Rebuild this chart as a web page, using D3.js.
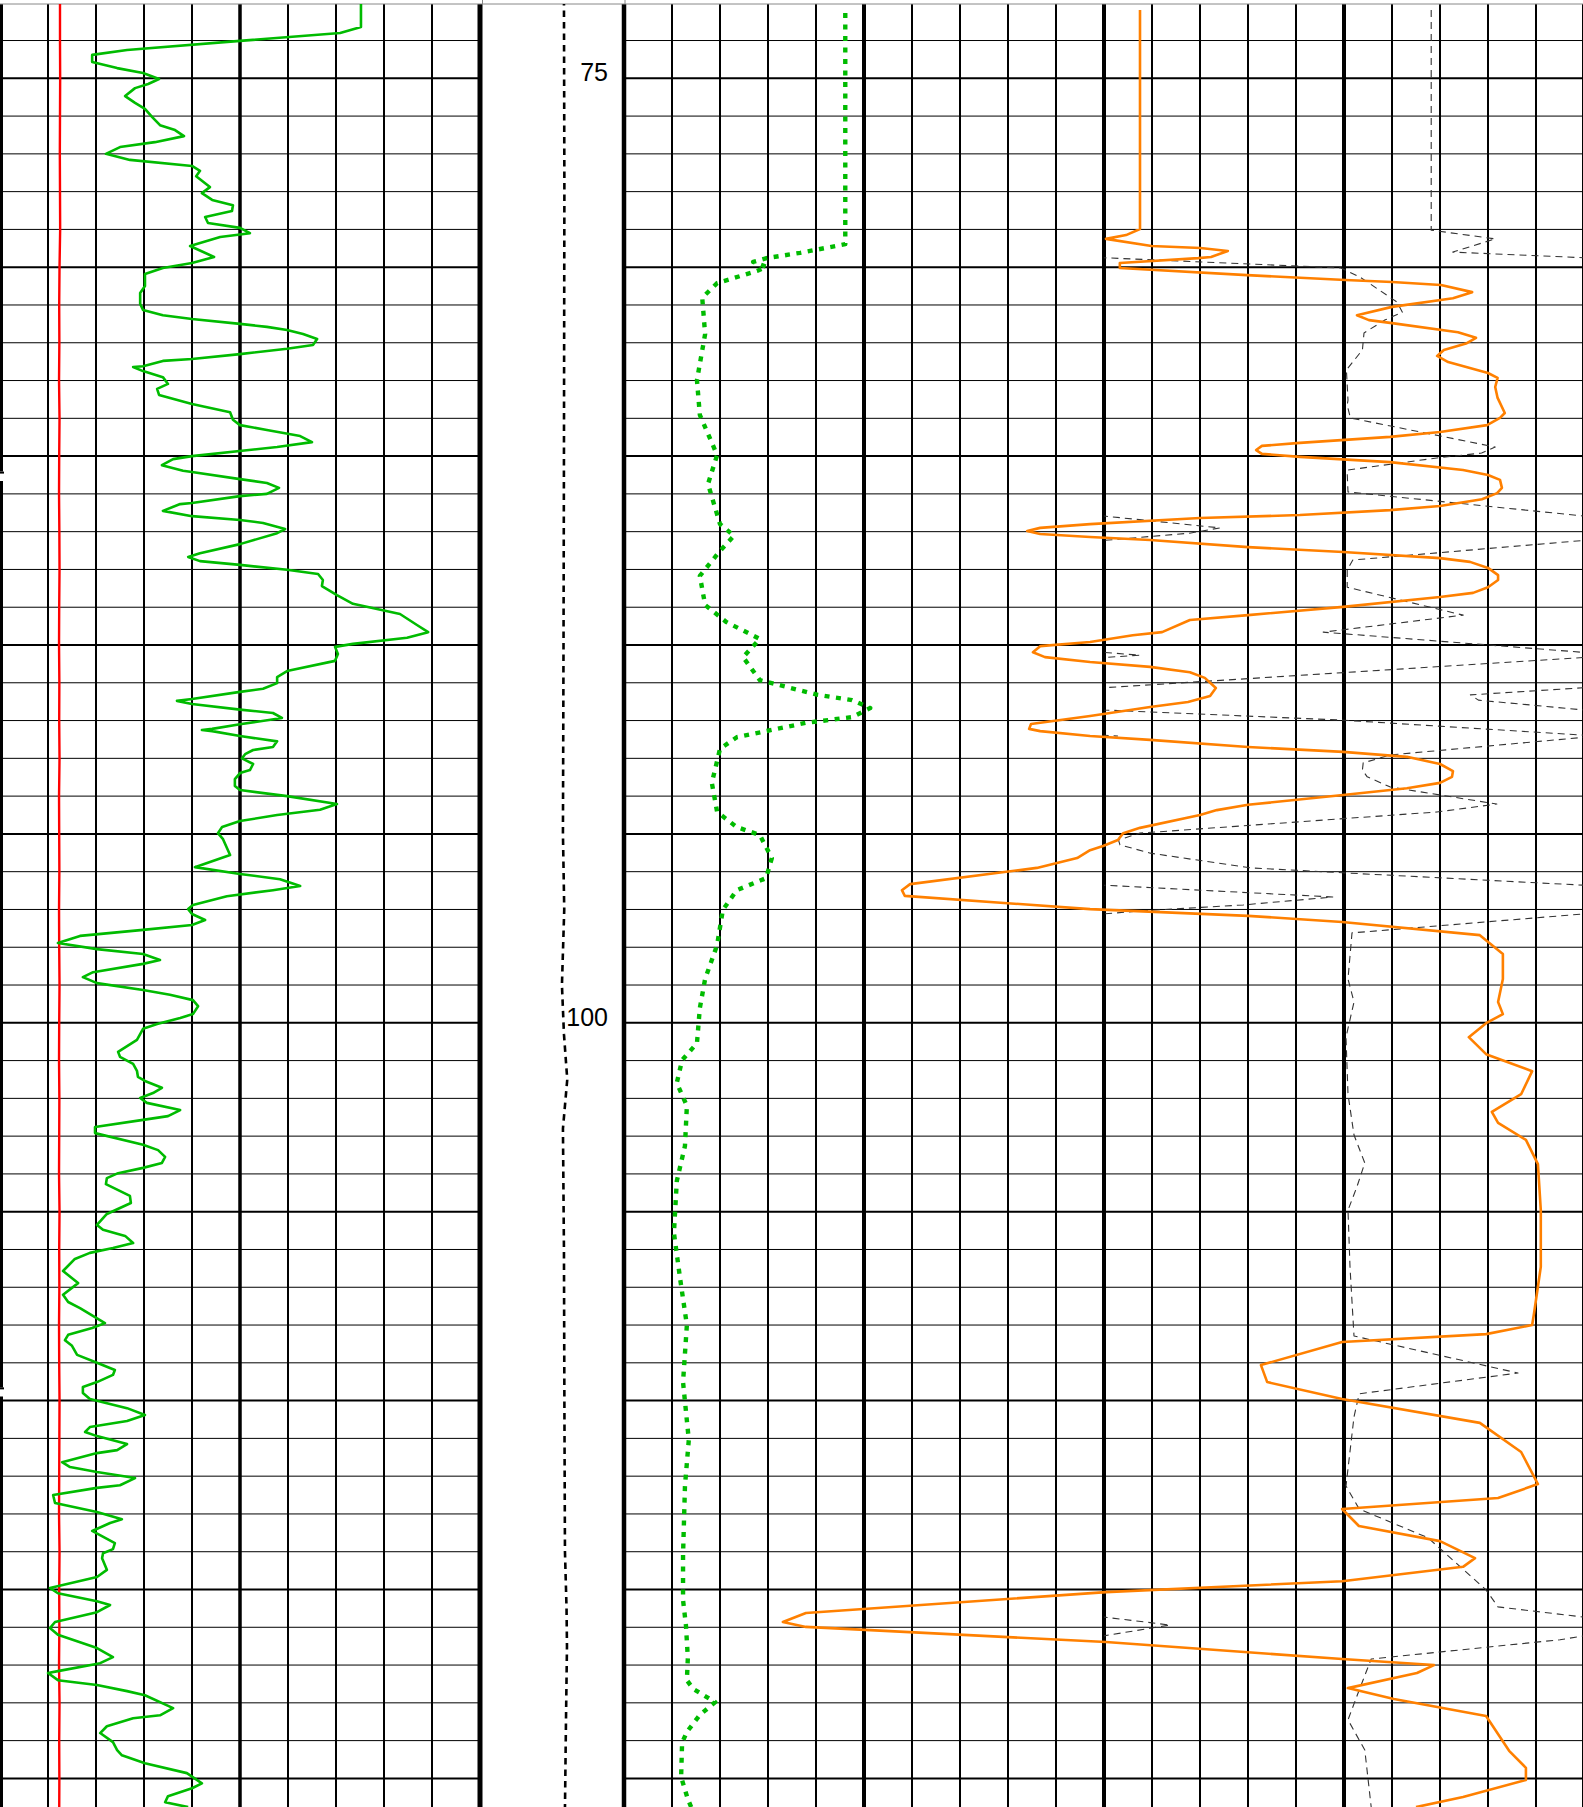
<!DOCTYPE html>
<html>
<head>
<meta charset="utf-8">
<script src="https://cdnjs.cloudflare.com/ajax/libs/d3/7.8.5/d3.min.js"></script>
<style>
  body { margin: 0; background: #fff; }
</style>
</head>
<body>
<div id="chart-area"></div>
<script>
/*
*    well log plot
*/

// depth labels
var depthLabels = [75, 100];

// track 1 : gamma ray (green) and red curve
var grDepth = [
  73.03,73.64,73.80,74.01,74.25,74.38,74.57,74.73,74.86,75.02,
  75.15,75.26,75.47,75.65,75.81,76.02,76.24,76.37,76.53,76.69,
  76.82,77.00,77.16,77.32,77.45,77.59,77.88,78.04,78.22,78.36,
  78.51,78.67,78.83,78.96,79.10,79.20,79.44,79.73,79.89,80.02,
  80.18,80.50,80.68,80.97,81.13,81.27,81.37,81.50,81.58,81.66,
  81.77,81.90,82.06,82.16,82.30,82.43,82.48,82.62,82.64,82.75,
  82.91,83.09,83.22,83.38,83.62,83.84,84.04,84.18,84.31,84.47,
  84.63,84.76,85.00,85.08,85.24,85.39,85.42,85.61,85.71,85.84,
  86.00,86.06,86.24,86.27,86.45,86.59,86.69,86.77,86.93,87.04,
  87.33,87.57,87.67,87.78,87.88,88.01,88.12,88.28,88.44,88.68,
  88.91,89.18,89.47,89.66,89.81,89.97,90.05,90.24,90.42,90.69,
  90.85,91.01,91.16,91.24,91.43,91.48,91.56,91.71,91.80,91.93,
  92.10,92.22,92.25,92.28,92.41,92.55,92.70,92.78,92.89,93.00,
  93.15,93.31,93.39,93.55,93.73,93.84,94.00,94.21,94.36,94.50,
  94.66,94.82,94.98,95.14,95.56,95.88,96.06,96.20,96.38,96.49,
  96.65,96.88,96.99,97.12,97.28,97.41,97.54,97.70,97.89,98.05,
  98.18,98.34,98.44,98.66,98.79,98.95,99.13,99.26,99.40,99.56,
  99.77,99.87,100.03,100.16,100.45,100.77,100.90,101.09,101.27,101.43,
  101.54,101.72,101.86,101.99,102.12,102.31,102.47,102.57,102.76,102.92,
  103.23,103.37,103.55,103.71,103.84,103.98,104.11,104.27,104.58,104.77,
  105.06,105.35,105.48,105.64,105.83,105.96,106.09,106.25,106.57,106.89,
  107.20,107.39,107.55,107.95,108.08,108.26,108.40,108.55,108.79,109.00,
  109.19,109.32,109.51,109.64,109.80,109.96,110.20,110.38,110.54,110.70,
  110.83,110.94,111.15,111.31,111.39,111.63,111.76,111.89,112.05,112.24,
  112.31,112.50,112.71,112.95,113.14,113.24,113.45,113.77,113.93,114.04,
  114.17,114.48,114.67,114.96,115.10,115.31,115.41,115.60,115.86,116.02,
  116.20,116.55,116.79,116.95,117.16,117.21,117.40,117.53,117.69,117.80,
  118.14,118.33,118.41,118.62,118.80,119.04,119.25,119.39,119.60,119.86,
  120.13,120.26,120.47,120.63,120.76
];
var grValue = [
  112.8,112.8,106.3,75.0,39.7,28.8,28.8,36.6,44.7,49.7,
  46.3,42.2,39.1,42.2,45.3,47.5,50.0,54.7,57.5,48.4,
  37.5,33.1,40.6,60.0,62.5,61.3,65.6,63.1,66.3,72.8,
  72.5,64.1,65.0,75.0,78.1,68.8,59.4,66.9,60.0,50.9,
  45.3,45.3,43.8,43.8,44.7,50.9,60.0,75.0,83.4,89.7,
  94.7,99.1,97.8,89.7,75.0,60.0,50.9,44.7,41.6,44.7,
  50.9,52.5,49.1,49.7,60.0,71.9,72.8,75.0,83.4,93.8,
  97.5,86.6,60.0,54.1,50.6,57.2,60.0,75.0,83.4,87.2,
  83.4,75.0,60.0,56.3,50.9,60.0,75.0,82.2,89.1,86.6,
  75.0,62.5,58.8,62.5,75.0,89.7,99.4,100.9,100.6,105.3,
  110.3,125.0,130.3,133.8,127.2,110.3,104.7,105.6,104.7,89.7,
  86.6,86.6,82.2,75.0,60.0,55.3,60.0,75.0,85.3,88.1,
  75.0,66.3,63.1,66.3,75.0,86.6,85.3,79.1,76.6,75.6,
  79.1,78.1,75.0,73.4,73.4,75.0,89.7,105.3,100.0,86.6,
  75.0,69.4,68.1,69.7,71.9,60.9,75.0,87.5,93.8,85.3,
  70.9,60.3,58.8,60.0,64.1,60.0,44.7,25.0,18.1,30.3,
  44.7,50.0,44.7,29.1,25.9,30.3,44.7,53.1,60.3,61.9,
  60.3,56.3,49.1,44.7,42.8,36.9,37.5,41.6,42.8,43.1,
  45.3,50.6,47.8,43.8,45.9,56.3,52.5,44.7,29.7,29.7,
  44.7,49.4,51.6,50.6,44.7,36.9,33.4,33.1,40.6,40.9,
  33.4,30.3,32.2,39.1,41.6,35.3,28.1,23.4,19.7,24.4,
  19.7,21.3,25.0,32.8,28.8,21.3,20.3,22.5,24.1,30.3,
  35.9,35.3,30.3,25.9,25.9,28.1,39.7,45.3,39.7,28.1,
  26.6,30.3,39.7,36.6,30.3,19.4,21.9,30.3,42.2,37.5,
  30.3,16.6,17.2,30.3,38.1,34.4,28.8,35.9,35.3,32.2,
  31.9,33.4,30.3,15.6,18.1,30.3,34.4,30.3,17.2,15.6,
  18.1,30.3,35.3,31.3,18.1,15.0,18.1,30.3,39.7,45.3,
  54.1,50.0,41.6,33.4,31.3,35.3,36.6,38.1,45.3,58.4,
  63.1,60.0,52.5,51.6,58.8
];

var redDepth = [73,74,75,76,77,78,79,80,81,82,83,84,85,86,87,88,89,90,91,92,93,94,95,96,97,
  98,99,100,101,102,103,104,105,106,107,108,109,110,111,112,113,114,115,116,117,118,119,120,121];
var redValue = [18.75,18.75,18.8,18.75,18.7,18.75,18.8,18.6,18.5,18.55,18.45,18.6,18.5,18.45,18.55,
  18.6,18.5,18.45,18.55,18.5,18.6,18.45,18.5,18.55,18.45,18.5,18.6,18.5,18.45,18.55,18.5,18.45,
  18.6,18.5,18.55,18.45,18.5,18.6,18.55,18.5,18.45,18.6,18.5,18.55,18.45,18.6,18.5,18.55,18.5];

// depth track curve
var depCurveDepth = [72.9,78,85,90,95,97,99,100.3,101.5,102.8,106,110,114,115.5,116.5,118.5,120.8];
var depCurveValue = [5.83,5.86,5.83,5.80,5.76,5.85,5.69,5.83,6.06,5.76,5.83,5.86,5.90,6.01,6.04,5.97,5.90];

// track 2 : resistivity (green dotted)
var resDepth = [73.27,79.39,79.62,79.76,79.86,79.99,80.10,80.42,80.81,81.77,82.99,83.91,84.97,85.74,
  86.80,87.11,87.51,88.17,88.94,89.39,89.84,90.32,90.93,91.32,91.46,91.67,91.91,92.06,92.44,92.75,
  93.65,94.42,94.82,95.03,95.64,96.17,96.49,97.01,97.94,98.84,99.61,100.54,100.99,101.59,102.20,
  103.26,104.19,105.56,106.78,108.00,109.51,111.04,112.26,114.09,115.28,115.94,116.81,117.40,117.63,
  117.98,118.32,118.77,119.06,119.96,120.55,120.76];
var resValue = [4.61,4.61,3.67,2.97,2.69,2.97,2.77,1.94,1.63,1.69,1.52,1.58,1.94,1.75,
  2.00,2.29,2.00,1.58,1.69,2.13,2.83,2.48,2.83,4.04,4.75,5.13,4.75,3.79,2.35,2.00,
  1.83,1.94,2.35,2.83,3.08,2.96,2.35,2.06,1.94,1.69,1.58,1.52,1.21,1.10,1.31,
  1.27,1.10,1.04,1.17,1.31,1.23,1.35,1.27,1.23,1.23,1.29,1.33,1.31,1.44,
  1.90,1.58,1.31,1.21,1.19,1.33,1.40];

// track 2 : sonic (orange)
var sonDepth = [73.19,78.99,79.15,79.25,79.44,79.49,79.57,79.73,79.76,79.89,80.02,80.21,80.34,80.39,
  80.47,80.66,80.82,81.05,81.27,81.40,81.48,81.72,81.87,82.01,82.19,82.35,82.51,82.80,82.93,83.17,
  83.46,83.86,83.99,84.18,84.36,84.49,84.65,84.73,84.84,84.94,85.02,85.16,85.37,85.50,85.63,85.84,
  85.98,86.14,86.32,86.43,86.56,86.64,86.80,86.90,86.98,87.06,87.14,87.22,87.41,87.54,87.70,87.80,
  87.96,88.15,88.28,88.47,88.62,88.73,88.99,89.21,89.34,89.66,89.74,89.92,90.03,90.19,90.32,90.45,
  90.58,90.72,90.87,91.14,91.35,91.51,91.64,91.88,92.09,92.22,92.28,92.41,92.51,92.70,92.83,92.96,
  93.15,93.34,93.49,93.65,93.79,93.97,94.23,94.37,94.50,94.84,94.98,95.16,95.32,95.43,95.64,95.90,
  96.33,96.49,96.64,96.99,97.17,97.33,97.68,98.18,98.84,99.45,99.77,100.01,100.38,100.83,101.28,
  101.89,102.36,102.65,103.10,103.74,104.96,106.46,107.68,108.00,108.24,108.45,109.06,109.51,109.96,
  110.59,111.36,112.21,112.58,112.87,113.32,113.72,114.17,114.40,114.78,115.07,115.62,115.86,115.99,
  116.39,116.84,117.00,117.21,117.61,117.90,118.35,119.27,119.72,120.04,120.49,120.76];
var sonValue = [107.5,107.5,104.6,100.4,109.9,120.1,125.8,122.3,119.6,103.3,103.3,129.8,150.3,160.0,
  170.2,176.7,172.7,160.0,152.7,155.2,160.0,173.75,177.5,175.6,170.8,169.4,171.7,180.0,182.0,181.5,
  182.0,183.5,182.5,179.8,170.0,159.6,140.8,132.9,131.7,132.9,140.8,159.6,174.8,180.0,182.5,182.9,
  181.9,178.75,170.0,159.6,140.8,120.0,97.1,86.7,84.0,86.7,97.1,109.6,130.0,149.8,170.0,176.25,
  180.0,182.1,182.1,180.0,176.9,170.0,149.8,130.0,117.9,112.1,106.0,97.1,86.7,85.2,87.7,97.1,
  109.6,117.9,121.0,123.3,122.1,117.5,109.6,97.1,84.8,84.4,86.7,97.1,109.6,130.0,149.8,163.1,
  170.0,172.7,172.5,170.0,163.1,149.8,130.0,123.5,120.0,107.5,104.0,102.9,99.8,97.1,94.4,86.0,
  59.6,57.9,58.5,97.1,130.0,149.6,178.3,183.1,183.1,182.1,183.1,179.6,176.0,179.6,189.2,
  186.9,180.8,182.1,187.9,190.4,191.0,191.0,189.6,189.2,179.6,149.6,132.7,134.0,149.6,
  178.3,186.9,190.4,182.1,149.6,153.1,170.0,177.3,174.8,149.6,100.4,37.9,33.1,37.9,
  100.4,149.6,168.75,165.2,150.8,160.4,179.6,184.4,187.9,187.9,174.8,165.0];

// track 3 : neutron (black dashed, wraps round the track)
var neuDepth = [73.19,79.02,79.25,79.60,80.02,80.26,80.92,81.19,81.40,81.74,82.19,82.72,83.52,83.65,
  83.99,84.76,84.92,85.05,85.37,85.45,85.95,86.90,87.04,87.75,88.01,88.47,89.21,89.66,90.27,91.32,
  91.46,91.72,91.99,92.41,92.91,93.12,93.31,93.49,93.76,94.21,94.42,94.98,95.16,95.29,95.51,95.90,
  96.04,96.67,96.88,97.04,97.62,98.84,99.45,100.38,101.89,102.97,103.71,104.35,104.96,106.46,108.29,
  109.27,109.82,110.43,112.26,112.87,113.63,115.01,115.46,115.94,116.33,116.84,117.66,118.45,119.25,120.76];
var neuValue = [0.641,0.641,0.561,0.614,0.154,0.130,0.084,0.077,0.099,0.125,0.127,0.147,0.145,0.146,
  0.142,-0.039,-0.022,0.034,0.146,0.146,0.145,-0.295,-0.257,0.139,0.146,0.146,0.001,0.176,-0.195,0.592,
  0.582,0.450,0.151,-0.167,0.092,0.126,0.127,0.121,0.092,-0.041,0.034,0.405,0.432,0.430,0.392,0.267,
  0.142,-0.436,-0.324,-0.195,0.14,0.145,0.1375,0.1475,0.145,0.1375,0.124,0.134,0.145,0.1425,0.1375,
  -0.0675,0.131,0.1375,0.1475,0.131,0.045,-0.0275,-0.0425,-0.2325,-0.12,0.116,0.131,0.145,0.124,0.116];

// breaks in the left edge line (depth)
var edgeBreaks = [[85.41, 85.66], [109.65, 109.89]];

var W = 1583, H = 1807, TOP = 4;

var svg = d3.select("#chart-area")
    .append("svg")
    .attr("width", W)
    .attr("height", H);

var y = d3.scaleLinear().domain([75, 100]).range([78.3, 1022.8]);
var xGR = d3.scaleLinear().domain([0, 150]).range([0, 480]);
var xDep = d3.scaleLinear().domain([0, 10]).range([480, 624]);
var xRes = d3.scaleLinear().domain([0, 20]).range([624, 1584]);
var xSon = d3.scaleLinear().domain([0, 200]).range([624, 1584]);
var xNeu = d3.scaleLinear().domain([0.45, -0.15]).range([1104, 1584]);
var wrap = xNeu(-0.15) - xNeu(0.45);

var defs = svg.append("defs");
function addClip(id, x0, x1) {
    defs.append("clipPath").attr("id", id)
        .append("rect")
        .attr("x", x0).attr("y", TOP)
        .attr("width", x1 - x0).attr("height", H - TOP);
}
addClip("clip1", 0, 480);
addClip("clipD", 480, 624);
addClip("clip2", 624, 1584);
addClip("clip3", 1104, 1584);

// horizontal grid
var depthLines = d3.range(73, 122).filter((d) => { return y(d) > TOP && y(d) < H; });
var grid = svg.append("g");
[[3, 480], [624, 1584]].forEach((t) => {
    grid.append("g").selectAll("line").data(depthLines)
        .enter().append("line")
            .attr("x1", t[0]).attr("x2", t[1])
            .attr("y1", (d) => { return y(d); })
            .attr("y2", (d) => { return y(d); })
            .attr("stroke", "#000")
            .attr("stroke-width", (d) => { return d % 5 === 0 ? 2 : 1; });
});

// vertical grid, track 1 (left edge drawn apart)
grid.append("g").selectAll("line").data(d3.range(15, 151, 15))
    .enter().append("line")
        .attr("x1", (d) => { return xGR(d); })
        .attr("x2", (d) => { return xGR(d); })
        .attr("y1", TOP).attr("y2", H)
        .attr("stroke", "#000")
        .attr("stroke-width", (d) => {
            if (d === 150) return 5;
            return d % 75 === 0 ? 3.5 : 2;
        });

// left edge with its two breaks
var edgeStops = [y.invert(TOP)];
edgeBreaks.forEach((b) => { edgeStops.push(b[0], b[1]); });
edgeStops.push(y.invert(H));
var edgeSegs = d3.range(0, edgeStops.length, 2).map((i) => { return [edgeStops[i], edgeStops[i + 1]]; });
grid.append("g").selectAll("line").data(edgeSegs)
    .enter().append("line")
        .attr("x1", 1.5).attr("x2", 1.5)
        .attr("y1", (d) => { return y(d[0]); })
        .attr("y2", (d) => { return y(d[1]); })
        .attr("stroke", "#000").attr("stroke-width", 3);
grid.append("g").selectAll("line").data(edgeBreaks)
    .enter().append("line")
        .attr("x1", 0).attr("x2", 4)
        .attr("y1", (d) => { return y(d[0]) + 1; })
        .attr("y2", (d) => { return y(d[0]) + 1; })
        .attr("stroke", "#000").attr("stroke-width", 2);

// vertical grid, track 2
grid.append("g").selectAll("line").data(d3.range(0, 21))
    .enter().append("line")
        .attr("x1", (d) => { return xRes(d); })
        .attr("x2", (d) => { return xRes(d); })
        .attr("y1", TOP).attr("y2", H)
        .attr("stroke", "#000")
        .attr("stroke-width", (d) => {
            if (d === 0) return 4.5;
            return d % 5 === 0 ? 4 : 2;
        });

// header border
svg.append("line")
    .attr("x1", 0).attr("x2", W).attr("y1", TOP).attr("y2", TOP)
    .attr("stroke", "#888").attr("stroke-width", 1);
[482.5, 625].forEach((x) => {
    svg.append("line").attr("x1", x).attr("x2", x).attr("y1", 0).attr("y2", TOP)
        .attr("stroke", "#888").attr("stroke-width", 1);
});

// depth labels
var axis = d3.axisLeft(y).tickValues(depthLabels).tickSize(0).tickPadding(0);
var axisG = svg.append("g")
    .attr("transform", "translate(608,0)")
    .call(axis);
axisG.select(".domain").remove();
axisG.selectAll("text")
    .attr("dy", "0.1em")
    .attr("fill", "#000")
    .style("font-family", "'Liberation Sans', Arial, sans-serif")
    .style("font-size", "25px");

function drawCurve(depths, values, xs, clipId, style, shift) {
    var pts = d3.zip(depths, values);
    var line = d3.line()
        .x((d) => { return xs(d[1]); })
        .y((d) => { return y(d[0]); });
    var p = svg.append("g").attr("clip-path", "url(#" + clipId + ")")
        .append("path")
        .datum(pts)
        .attr("d", line)
        .attr("fill", "none")
        .attr("stroke", style.color)
        .attr("stroke-width", style.width)
        .attr("stroke-linejoin", "round");
    if (style.dash) p.attr("stroke-dasharray", style.dash);
    if (shift) p.attr("transform", "translate(" + shift + ",0)");
}

drawCurve(redDepth, redValue, xGR, "clip1", {color: "#ff0000", width: 2.4});
drawCurve(grDepth, grValue, xGR, "clip1", {color: "#00bb00", width: 2.6});
drawCurve(depCurveDepth, depCurveValue, xDep, "clipD", {color: "#000", width: 2.6, dash: "6.5,5"});
[-1, 0, 1].forEach((k) => {
    drawCurve(neuDepth, neuValue, xNeu, "clip3", {color: "#333", width: 1.1, dash: "7,5"}, k * wrap);
});
drawCurve(sonDepth, sonValue, xSon, "clip2", {color: "#ff8000", width: 2.6});
drawCurve(resDepth, resValue, xRes, "clip2", {color: "#00bb00", width: 4.4, dash: "5,6.5"});
</script>
</body>
</html>
